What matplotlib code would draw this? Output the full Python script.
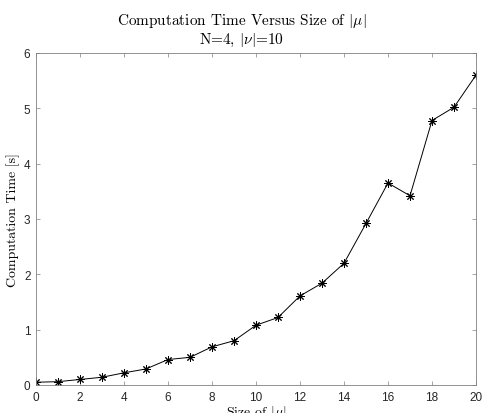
import matplotlib
matplotlib.use("Agg")
import matplotlib.pyplot as plt

# Data
size_mu = list(range(0, 21))
comp_time = [0.05, 0.06, 0.10, 0.14, 0.22, 0.29, 0.46, 0.50, 0.69, 0.80,
             1.08, 1.22, 1.61, 1.84, 2.20, 2.92, 3.65, 3.42, 4.78, 5.02, 5.60]

x_ticks = [0, 2, 4, 6, 8, 10, 12, 14, 16, 18, 20]
y_ticks = [0, 1, 2, 3, 4, 5, 6]

plt.rcParams["mathtext.fontset"] = "cm"
plt.rcParams["axes.unicode_minus"] = False

axis_col = (0.15, 0.15, 0.15)

fig = plt.figure(figsize=(4.83, 4.14), dpi=100)
ax = fig.add_axes([36 / 483, 1 - 386 / 414, (476 - 36) / 483, (386 - 54) / 414])

ax.plot(size_mu, comp_time, color="black", linewidth=0.7,
        marker=(8, 2, 0), markersize=6, markeredgewidth=0.7)

ax.set_xlim(0, 20)
ax.set_ylim(0, 6)
ax.set_xticks(x_ticks)
ax.set_yticks(y_ticks)
ax.tick_params(direction="in", top=True, right=True, length=3, width=0.5,
               colors=axis_col, labelsize=8.5, pad=4)
ax.tick_params(axis="both", color=(0.5, 0.5, 0.5))
for lbl in ax.get_xticklabels() + ax.get_yticklabels():
    lbl.set_fontfamily("Liberation Sans")
for sp in ax.spines.values():
    sp.set_linewidth(0.6)
    sp.set_color((0.5, 0.5, 0.5))

ax.set_xlabel(r"Size of $|\mu|$", fontfamily="cmr10", fontsize=10, labelpad=0)
ax.set_ylabel("Computation Time [s]", fontfamily="cmr10", fontsize=10, labelpad=3)

fig.text(0.5, 1 - 25 / 414, r"Computation Time Versus Size of $|\mu|$",
         fontfamily="cmr10", fontsize=11, ha="center", va="baseline")
fig.text(0.5, 1 - 44 / 414, r"N=4, $|\nu|$=10",
         fontfamily="cmr10", fontsize=11, ha="center", va="baseline")

fig.savefig("out.png", dpi=100)
